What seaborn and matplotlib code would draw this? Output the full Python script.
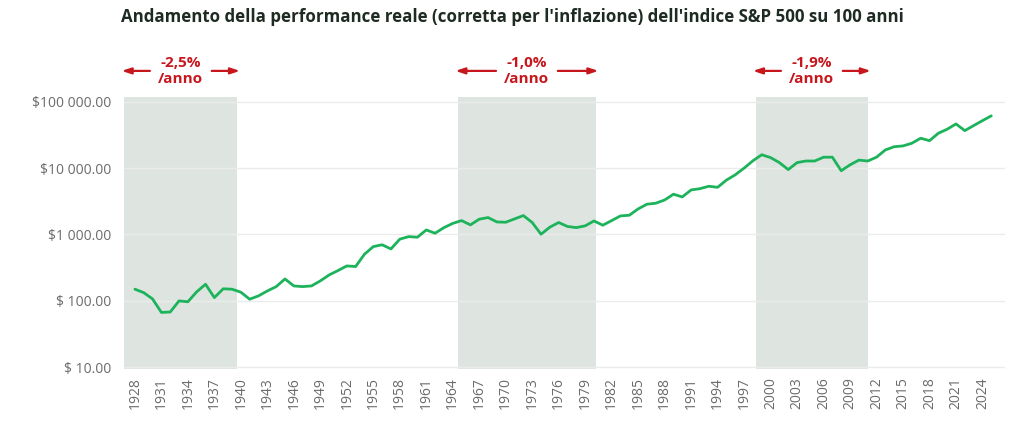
import matplotlib
matplotlib.use("Agg")
import matplotlib.pyplot as plt
import matplotlib.ticker as mticker
import seaborn as sns
import pandas as pd

years = list(range(1928, 2026))
values = [
    150, 133, 107, 67, 68, 100, 97, 137, 178, 112,
    152, 150, 135, 106, 119, 141, 164, 214, 168, 164,
    168, 200, 246, 286, 336, 329, 504, 657, 700, 606,
    850, 929, 910, 1170, 1045, 1268, 1470, 1620, 1397, 1700,
    1800, 1545, 1530, 1717, 1928, 1515, 1010, 1290, 1515, 1320,
    1270, 1350, 1600, 1380, 1620, 1906, 1950, 2430, 2860, 2960,
    3310, 4045, 3680, 4690, 4900, 5330, 5140, 6600, 7930, 10000,
    12900, 15900, 14400, 12100, 9500, 12100, 12800, 12800, 14600, 14600,
    9130, 11200, 13200, 12800, 14600, 18800, 21000, 21600, 23700, 28200,
    25900, 33500, 38500, 46300, 36700, 43700, 51900, 61300,
]
tick_years = list(range(1928, 2025, 3))
y_ticks = [10, 100, 1000, 10000, 100000]

# shaded periods and their annual returns
shade_start = [1926.8, 1964.6, 1998.3]
shade_end = [1939.6, 1980.2, 2011.05]
shade_labels = ["-2,5%\n/anno", "-1,0%\n/anno", "-1,9%\n/anno"]

title = ("Andamento della performance reale (corretta per l'inflazione) "
         "dell'indice S&P 500 su 100 anni")

df = pd.DataFrame({"anno": years, "valore": values})

sns.set_theme(style="white")
plt.rcParams["font.family"] = ["Open Sans", "DejaVu Sans"]

GREEN = "#1db35b"
RED = "#c8161d"
SHADE = "#dee5e0"
GREY = "#6b6b6b"

fig = plt.figure(figsize=(10.24, 4.3), dpi=100)
ax = fig.add_axes([0.1214, 0.1419, 0.8596, 0.6325])

for s, e in zip(shade_start, shade_end):
    ax.axvspan(s, e, color=SHADE, lw=0, zorder=0)

sns.lineplot(data=df, x="anno", y="valore", color=GREEN, linewidth=2.0, ax=ax, zorder=3)

ax.set_yscale("log")
ax.set_ylim(9.42, 117800)
ax.set_xlim(1926.8, 2026.5)


def fmt_dollar(v, pos=None):
    s = f"{v:,.2f}".replace(",", " ")
    return ("$ " + s) if v < 1000 else ("$" + s)


ax.yaxis.set_major_locator(mticker.FixedLocator(y_ticks))
ax.yaxis.set_minor_locator(mticker.NullLocator())
ax.yaxis.set_major_formatter(mticker.FuncFormatter(fmt_dollar))
ax.set_xticks(tick_years)
ax.set_xticklabels([str(y) for y in tick_years], rotation=90)

ax.tick_params(axis="y", length=0, pad=9.5, labelsize=10, labelcolor=GREY)
ax.tick_params(axis="x", length=0, pad=6, labelsize=10, labelcolor=GREY)
ax.grid(axis="y", color="#ebebeb", linewidth=1.0, zorder=1)
ax.grid(axis="x", visible=False)
for sp in ax.spines.values():
    sp.set_visible(False)
ax.set_xlabel("")
ax.set_ylabel("")

trans = ax.get_xaxis_transform()
arrow = dict(arrowstyle="-|>,head_length=0.45,head_width=0.15",
             color=RED, lw=1.6, shrinkA=0, shrinkB=0)
for s, e, lab in zip(shade_start, shade_end, shade_labels):
    c = (s + e) / 2
    ax.text(c, 1.096, lab, transform=trans, ha="center", va="center",
            color=RED, fontsize=11, fontweight="bold", linespacing=1.15)
    ax.annotate("", xy=(s - 0.3, 1.096), xytext=(c - 3.5, 1.096),
                xycoords=trans, textcoords=trans, annotation_clip=False,
                arrowprops=arrow)
    ax.annotate("", xy=(e + 0.3, 1.096), xytext=(c + 3.5, 1.096),
                xycoords=trans, textcoords=trans, annotation_clip=False,
                arrowprops=arrow)

fig.text(0.1182, 0.96, title, ha="left", va="center", fontsize=12.2,
         fontweight="bold", color="#1e2b22")

fig.savefig("out.png", dpi=100)
